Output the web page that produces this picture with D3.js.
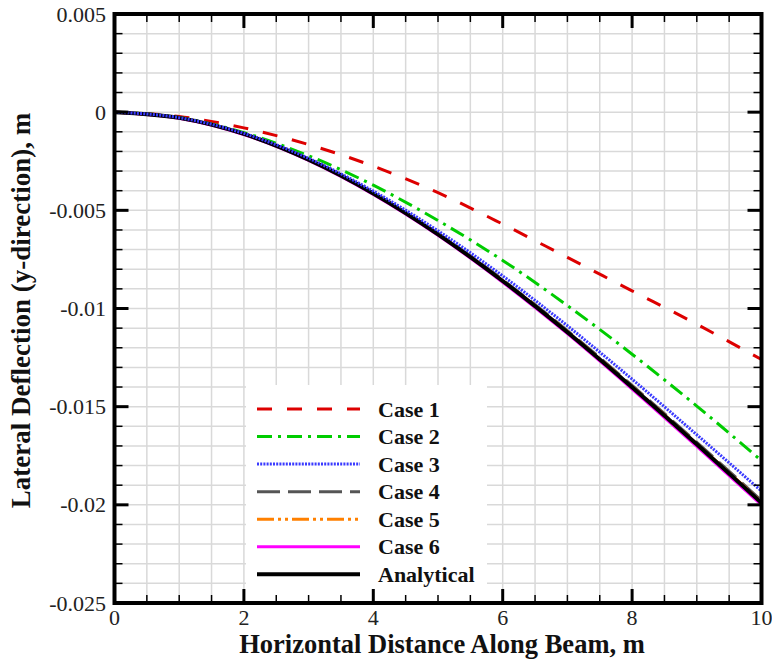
<!DOCTYPE html>
<html><head><meta charset="utf-8">
<script src="https://cdn.jsdelivr.net/npm/d3@7"></script>
<style>html,body{margin:0;padding:0;background:#fff;}svg{display:block;}</style>
</head><body>
<svg id="chart" width="772" height="661"></svg>
<script>
const xValues = [0,1,2,3,4,5,6,7,8,9,10];
const case1 = [0,-0.00022,-0.00080,-0.00165,-0.00275,-0.00410,-0.00570,-0.00740,-0.00910,-0.01080,-0.01260];
const case2 = [0,-0.00027,-0.00104,-0.00222,-0.00372,-0.00552,-0.00755,-0.00985,-0.01233,-0.01497,-0.01775];
const case3 = [0,-0.00028,-0.00108,-0.00235,-0.00402,-0.00604,-0.00834,-0.01088,-0.01360,-0.01643,-0.01930];
const case4 = [0,-0.00029,-0.00110,-0.00240,-0.00411,-0.00617,-0.00854,-0.01113,-0.01392,-0.01682,-0.01978];
const case5 = [0,-0.00029,-0.00111,-0.00241,-0.00413,-0.00620,-0.00858,-0.01118,-0.01398,-0.01689,-0.01986];
const case6 = [0,-0.00031,-0.00114,-0.00246,-0.00419,-0.00627,-0.00866,-0.01128,-0.01410,-0.01702,-0.02000];
const analytical = [0,-0.00029,-0.00111,-0.00242,-0.00414,-0.00622,-0.00860,-0.01121,-0.01401,-0.01692,-0.01990];
const seriesNames = ["Case 1","Case 2","Case 3","Case 4","Case 5","Case 6","Analytical"];
const xTickLabels = ["0","2","4","6","8","10"];
const yTickLabels = ["0.005","0","-0.005","-0.01","-0.015","-0.02","-0.025"];
const xTitle = "Horizontal Distance Along Beam, m";
const yTitle = "Lateral Deflection (y-direction), m";

const seriesValues = [case1, case2, case3, case4, case5, case6, analytical];
const styles = [
  {color:"#dd0000", dash:"15,15", w:3},
  {color:"#00cc00", dash:"15,6,3,6", w:3},
  {color:"#3a3aff", dash:"2,1.2", w:3},
  {color:"#555555", dash:"23,8", w:3},
  {color:"#ff8000", dash:"17,4,3,4,3,4", w:3},
  {color:"#ff00ff", dash:null, w:3},
  {color:"#000000", dash:null, w:4}
];

const svg = d3.select("#chart");
const L = 114.5, R = 761.5, T = 14, B = 603;
const x = d3.scaleLinear().domain([0,10]).range([L,R]);
const y = d3.scaleLinear().domain([-0.025,0.005]).range([B,T]);
const font = "'Liberation Serif','Times New Roman',serif";

// gridlines
const xMinor = d3.range(0, 10.001, 0.5);
const yMinor = d3.range(-25, 5.001, 1).map(v => v/1000);
const grid = svg.append("g");
grid.selectAll("line.gx").data(xMinor).enter().append("line")
  .attr("x1", d=>x(d)).attr("x2", d=>x(d)).attr("y1", T).attr("y2", B)
  .attr("stroke", "#d9d9d9").attr("stroke-width", 1.5);
grid.selectAll("line.gy").data(yMinor).enter().append("line")
  .attr("x1", L).attr("x2", R).attr("y1", d=>y(d)).attr("y2", d=>y(d))
  .attr("stroke", "#d9d9d9").attr("stroke-width", 1.5);

// series
const line = d3.line().curve(d3.curveMonotoneX);
const data = seriesValues.map(vals => vals.map((v,i)=>[x(xValues[i]), y(v)]));
const order = [0,1,3,4,5,6,2];
order.forEach(i => {
  const s = styles[i];
  const p = svg.append("path").attr("d", line(data[i])).attr("fill","none")
    .attr("stroke", s.color).attr("stroke-width", s.w);
  if (s.dash) p.attr("stroke-dasharray", s.dash);
});

// legend
svg.append("rect").attr("x",246).attr("y",385).attr("width",241).attr("height",B-385).attr("fill","#fff");
const legendY0 = 409, legendDy = 27.55;
seriesNames.forEach((name,i) => {
  const s = styles[i];
  const ly = legendY0 + i*legendDy;
  const l = svg.append("line").attr("x1",257).attr("x2",360).attr("y1",ly).attr("y2",ly)
    .attr("stroke", s.color).attr("stroke-width", s.w);
  if (s.dash) l.attr("stroke-dasharray", s.dash);
  svg.append("text").attr("x",378).attr("y",ly+7.5).text(name)
    .attr("font-family",font).attr("font-weight","bold").attr("font-size",22).attr("fill","#111");
});

// ticks (inward, all four sides)
const xMajor = d3.range(0, 10.001, 2);
const yMajor = d3.range(-25, 5.001, 5).map(v=>v/1000);
const tk = svg.append("g").attr("stroke","#000");
xMinor.forEach(v => {
  const major = xMajor.some(m=>Math.abs(m-v)<1e-9);
  const len = major ? 14 : 8, w = major ? 3 : 1.5;
  tk.append("line").attr("x1",x(v)).attr("x2",x(v)).attr("y1",B).attr("y2",B-len).attr("stroke-width",w);
  tk.append("line").attr("x1",x(v)).attr("x2",x(v)).attr("y1",T).attr("y2",T+len).attr("stroke-width",w);
});
yMinor.forEach(v => {
  const major = yMajor.some(m=>Math.abs(m-v)<1e-9);
  const len = major ? 14 : 8, w = major ? 3 : 1.5;
  tk.append("line").attr("y1",y(v)).attr("y2",y(v)).attr("x1",L).attr("x2",L+len).attr("stroke-width",w);
  tk.append("line").attr("y1",y(v)).attr("y2",y(v)).attr("x1",R).attr("x2",R-len).attr("stroke-width",w);
});

// frame
svg.append("rect").attr("x",L).attr("y",T).attr("width",R-L).attr("height",B-T)
  .attr("fill","none").attr("stroke","#000").attr("stroke-width",4);

// tick labels
xMajor.forEach((v,i) => {
  svg.append("text").attr("x",x(v)).attr("y",625).attr("text-anchor","middle")
    .attr("font-family",font).attr("font-size",22).attr("fill","#222").text(xTickLabels[i]);
});
yMajor.slice().reverse().forEach((v,i) => {
  svg.append("text").attr("x",106).attr("y",y(v)+7.5).attr("text-anchor","end")
    .attr("font-family",font).attr("font-size",22).attr("fill","#222").text(yTickLabels[i]);
});

// axis titles
svg.append("text").attr("x",(L+R)/2+4).attr("y",653).attr("text-anchor","middle")
  .attr("font-family",font).attr("font-weight","bold").attr("font-size",26.5).attr("fill","#111").text(xTitle);
svg.append("text").attr("transform",`translate(30,${(T+B)/2+2}) rotate(-90)`).attr("text-anchor","middle")
  .attr("font-family",font).attr("font-weight","bold").attr("font-size",27).attr("fill","#111").text(yTitle);
</script>
</body></html>
